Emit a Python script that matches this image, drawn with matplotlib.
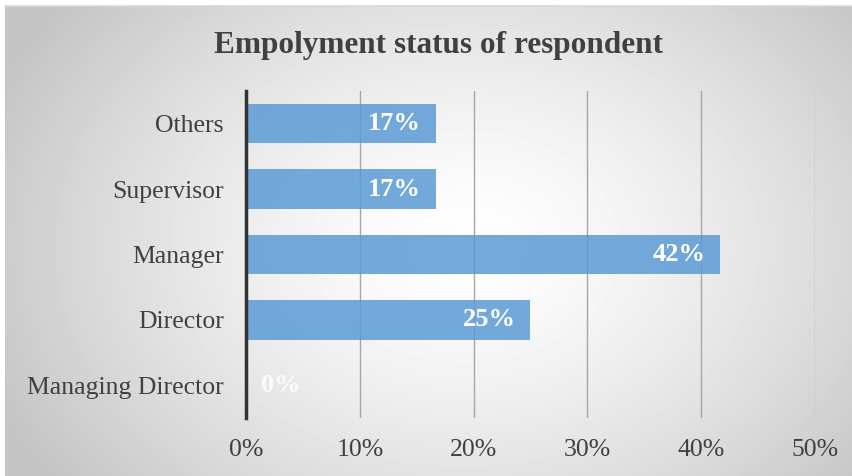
import numpy as np
import matplotlib.pyplot as plt

categories = ["Managing Director", "Director", "Manager", "Supervisor", "Others"]
shares = [0.0, 25.0, 41.67, 16.67, 16.67]
value_labels = ["0%", "25%", "42%", "17%", "17%"]
x_ticks = [0, 10, 20, 30, 40, 50]
x_tick_labels = ["0%", "10%", "20%", "30%", "40%", "50%"]

plt.rcParams["font.family"] = ["Liberation Serif", "DejaVu Serif"]

W, H = 853, 476
fig = plt.figure(figsize=(W / 100, H / 100), dpi=100)
fig.patch.set_facecolor("white")

# radial gray-to-white background panel
bg = fig.add_axes([5 / W, 0, (W - 5) / W, (H - 6) / H])
bg.set_axis_off()
yy, xx = np.mgrid[0:470, 0:848]
r = np.sqrt(((xx - 460) / 560) ** 2 + ((yy - 240) / 420) ** 2)
shade = np.clip(1.0 - 0.26 * r ** 1.4, 0.77, 1.0)
bg.imshow(shade, cmap="gray", vmin=0, vmax=1, aspect="auto", interpolation="bilinear")
fig.add_artist(plt.Line2D([5 / W, 1], [(H - 6) / H] * 2, color="#d8d8d8", lw=1.2))

ax = fig.add_axes([246 / W, (H - 418) / H, (815 - 246) / W, (418 - 91) / H])
ax.patch.set_alpha(0)
y = np.arange(len(categories))
ax.barh(y, shares, height=0.6, color="#5b9bd5", alpha=0.85, zorder=3)

for yi, val, lab in zip(y, shares, value_labels):
    if val > 0:
        ax.text(val - 1.3, yi, lab, ha="right", va="center", color="white",
                fontsize=19, fontweight="bold", zorder=4)
    else:
        ax.text(1.3, yi, lab, ha="left", va="center", color="white",
                fontsize=19, fontweight="bold", alpha=0.8, zorder=4)

ax.set_xlim(0, 50)
ax.set_ylim(-0.5, len(categories) - 0.5)
ax.set_xticks(x_ticks)
ax.set_xticklabels(x_tick_labels)
ax.set_yticks(y)
ax.set_yticklabels(categories)
ax.tick_params(axis="both", length=0, labelsize=18.5, colors="#404040")
ax.tick_params(axis="y", pad=16)
ax.tick_params(axis="x", pad=15)
ax.xaxis.grid(True, color="#a6a6a6", lw=1, zorder=0)
for s in ["top", "right", "bottom"]:
    ax.spines[s].set_visible(False)
ax.spines["left"].set_color("#333333")
ax.spines["left"].set_linewidth(2.5)
ax.spines["left"].set_zorder(5)

fig.text(439 / W, 1 - 45 / H, "Empolyment status of respondent", ha="center", va="center",
         fontsize=22.5, fontweight="bold", color="#404040")

fig.savefig("out.png", dpi=100)
